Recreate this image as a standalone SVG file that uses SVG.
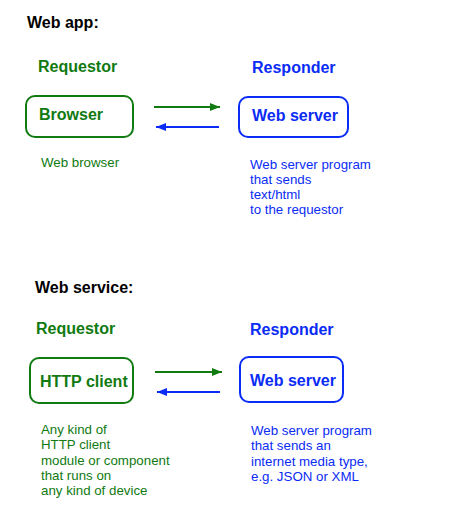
<svg xmlns="http://www.w3.org/2000/svg" width="450" height="512" viewBox="0 0 450 512">
<style>
text{font-family:"Liberation Sans",Arial,sans-serif}
.h{font-size:16px;font-weight:bold;fill:#000}
.rg{font-size:16px;font-weight:bold;fill:#117a11}
.rb{font-size:16px;font-weight:bold;fill:#0a2cf5}
.g{fill:#117a11}
.b{fill:#0a2cf5}
.sm{font-size:13.3px}
.bg{fill:#fff;stroke:#117a11;stroke-width:2}
.bb{fill:#fff;stroke:#0a2cf5;stroke-width:2}
.cg{stroke:#117a11;stroke-width:2;fill:none}
.cb{stroke:#0a2cf5;stroke-width:2;fill:none}
</style>
<defs>
<marker id="ag" markerWidth="10" markerHeight="8" refX="10" refY="4" orient="auto" markerUnits="userSpaceOnUse"><path d="M0,0L10,4L0,8z" fill="#117a11"/></marker>
<marker id="ab" markerWidth="10" markerHeight="8" refX="10" refY="4" orient="auto" markerUnits="userSpaceOnUse"><path d="M0,0L10,4L0,8z" fill="#0a2cf5"/></marker>
</defs>
<rect width="450" height="512" fill="#fff"/>
<text class="h" x="27" y="28">Web app:</text>
<text class="rg" x="38" y="72">Requestor</text>
<text class="rb" x="252" y="73">Responder</text>
<g id="browser"><rect class="bg" x="26" y="96" width="107" height="41" rx="9"/><text class="rg" x="39" y="120">Browser</text></g>
<g id="webserver1"><rect class="bb" x="239" y="97" width="109" height="40" rx="9"/><text class="rb" x="252" y="121">Web server</text></g>
<g id="connectors1">
<line class="cg" x1="154" y1="107" x2="220" y2="107" marker-end="url(#ag)"/>
<line class="cb" x1="219" y1="127" x2="156" y2="127" marker-end="url(#ab)"/>
</g>
<text class="g sm" x="41" y="167">Web browser</text>
<text class="b sm" x="250" y="169">Web server program</text>
<text class="b sm" x="250" y="184">that sends</text>
<text class="b sm" x="250" y="199">text/html</text>
<text class="b sm" x="250" y="214">to the requestor</text>

<text class="h" x="35" y="293">Web service:</text>
<text class="rg" x="36" y="334">Requestor</text>
<text class="rb" x="250" y="335">Responder</text>
<g id="httpclient"><rect class="bg" x="30" y="358" width="103" height="45" rx="9"/><text class="rg" x="40" y="387">HTTP client</text></g>
<g id="webserver2"><rect class="bb" x="240" y="357" width="103" height="45" rx="9"/><text class="rb" x="250" y="386">Web server</text></g>
<g id="connectors2">
<line class="cg" x1="155" y1="372" x2="222" y2="372" marker-end="url(#ag)"/>
<line class="cb" x1="220" y1="392" x2="157" y2="392" marker-end="url(#ab)"/>
</g>
<text class="g sm" x="41" y="434">Any kind of</text>
<text class="g sm" x="41" y="449">HTTP client</text>
<text class="g sm" x="41" y="465">module or component</text>
<text class="g sm" x="41" y="480">that runs on</text>
<text class="g sm" x="41" y="495">any kind of device</text>
<text class="b sm" x="251" y="435">Web server program</text>
<text class="b sm" x="251" y="450">that sends an</text>
<text class="b sm" x="251" y="466">internet media type,</text>
<text class="b sm" x="251" y="481">e.g. JSON or XML</text>
</svg>
